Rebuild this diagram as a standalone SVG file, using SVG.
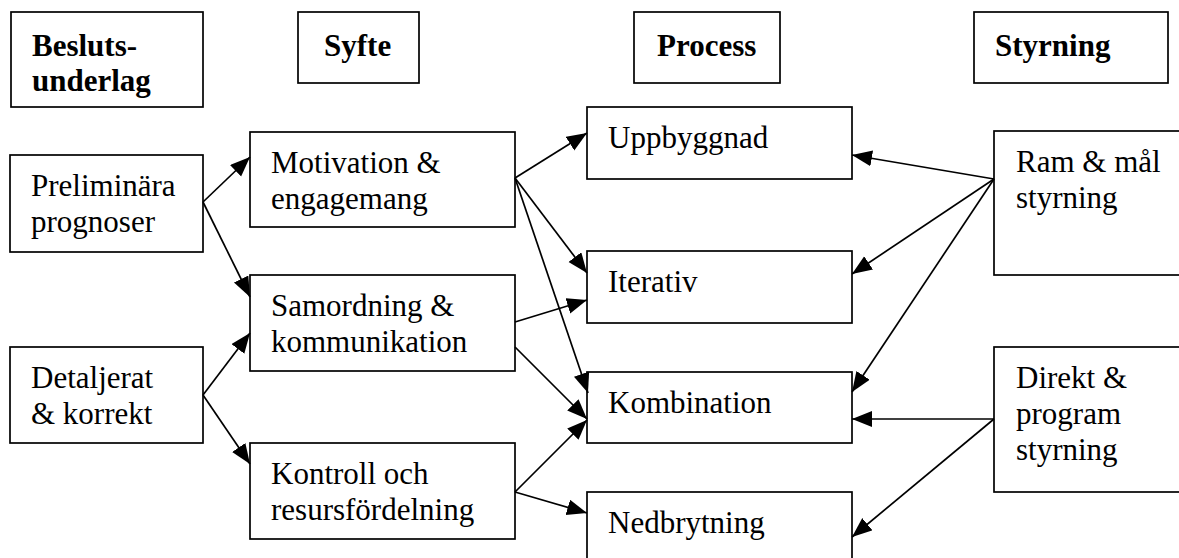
<svg xmlns="http://www.w3.org/2000/svg" width="1179" height="558" viewBox="0 0 1179 558">
  <defs>
    <style>
      .box { fill: #ffffff; stroke: #000000; stroke-width: 1.7; }
      .h { font-weight: bold; }
      .c { stroke: #000000; stroke-width: 1.7; fill: none; marker-end: url(#ah); }
    </style>
    <marker id="ah" markerUnits="userSpaceOnUse" markerWidth="22" markerHeight="18" refX="20" refY="8" orient="auto">
      <path d="M0,0 L20,8 L0,16 Z" fill="#000000"/>
    </marker>
  </defs>
  <rect width="1179" height="558" fill="#ffffff"/>

  <g font-family="'Liberation Serif', 'Times New Roman', Times, serif" font-size="31" fill="#000000">
  <!-- column headers -->
  <g id="h-beslutsunderlag">
    <rect class="box" x="11" y="12" width="192" height="95"/>
    <text class="h" x="32" y="56">Besluts-</text>
    <text class="h" x="32" y="91">underlag</text>
  </g>
  <g id="h-syfte">
    <rect class="box" x="298" y="12" width="121" height="71"/>
    <text class="h" x="324" y="56">Syfte</text>
  </g>
  <g id="h-process">
    <rect class="box" x="634" y="12" width="146" height="71"/>
    <text class="h" x="657" y="56">Process</text>
  </g>
  <g id="h-styrning">
    <rect class="box" x="974" y="12" width="194" height="71"/>
    <text class="h" x="995" y="56">Styrning</text>
  </g>

  <!-- Beslutsunderlag -->
  <g id="n-preliminara">
    <rect class="box" x="10" y="155" width="193" height="97"/>
    <text x="31" y="196">Preliminära</text>
    <text x="31" y="232">prognoser</text>
  </g>
  <g id="n-detaljerat">
    <rect class="box" x="10" y="347" width="193" height="96"/>
    <text x="31" y="388">Detaljerat</text>
    <text x="31" y="424">&amp; korrekt</text>
  </g>

  <!-- Syfte -->
  <g id="n-motivation">
    <rect class="box" x="250" y="132" width="265" height="95"/>
    <text x="271" y="173">Motivation &amp;</text>
    <text x="271" y="209">engagemang</text>
  </g>
  <g id="n-samordning">
    <rect class="box" x="250" y="275" width="265" height="96"/>
    <text x="271" y="316">Samordning &amp;</text>
    <text x="271" y="352">kommunikation</text>
  </g>
  <g id="n-kontroll">
    <rect class="box" x="250" y="443" width="265" height="96"/>
    <text x="271" y="484">Kontroll och</text>
    <text x="271" y="520">resursfördelning</text>
  </g>

  <!-- Process -->
  <g id="n-uppbyggnad">
    <rect class="box" x="587" y="107" width="265" height="72"/>
    <text x="608" y="148">Uppbyggnad</text>
  </g>
  <g id="n-iterativ">
    <rect class="box" x="587" y="251" width="265" height="72"/>
    <text x="608" y="292">Iterativ</text>
  </g>
  <g id="n-kombination">
    <rect class="box" x="587" y="372" width="265" height="71"/>
    <text x="608" y="413">Kombination</text>
  </g>
  <g id="n-nedbrytning">
    <rect class="box" x="587" y="492" width="265" height="80"/>
    <text x="608" y="533">Nedbrytning</text>
  </g>

  <!-- Styrning -->
  <g id="n-ram">
    <rect class="box" x="994" y="131" width="220" height="144"/>
    <text x="1016" y="172">Ram &amp; mål</text>
    <text x="1016" y="208">styrning</text>
  </g>
  <g id="n-direkt">
    <rect class="box" x="994" y="347" width="220" height="145"/>
    <text x="1016" y="388">Direkt &amp;</text>
    <text x="1016" y="424">program</text>
    <text x="1016" y="460">styrning</text>
  </g>
  </g>

  <!-- connectors -->
  <g id="connectors">
    <line class="c" x1="203" y1="202" x2="250" y2="157"/>
    <line class="c" x1="203" y1="202" x2="250" y2="297"/>
    <line class="c" x1="203" y1="395" x2="250" y2="333"/>
    <line class="c" x1="203" y1="395" x2="250" y2="464"/>

    <line class="c" x1="515" y1="178" x2="587" y2="133"/>
    <line class="c" x1="515" y1="178" x2="587" y2="273"/>
    <line class="c" x1="515" y1="178" x2="588" y2="393"/>
    <line class="c" x1="515" y1="322" x2="587" y2="300"/>
    <line class="c" x1="515" y1="347" x2="587" y2="419"/>
    <line class="c" x1="515" y1="492" x2="587" y2="420"/>
    <line class="c" x1="515" y1="492" x2="587" y2="513"/>

    <line class="c" x1="994" y1="179" x2="852" y2="155"/>
    <line class="c" x1="994" y1="179" x2="852" y2="274"/>
    <line class="c" x1="994" y1="179" x2="852" y2="392"/>
    <line class="c" x1="994" y1="419" x2="852" y2="419"/>
    <line class="c" x1="994" y1="419" x2="852" y2="537"/>
  </g>
</svg>
